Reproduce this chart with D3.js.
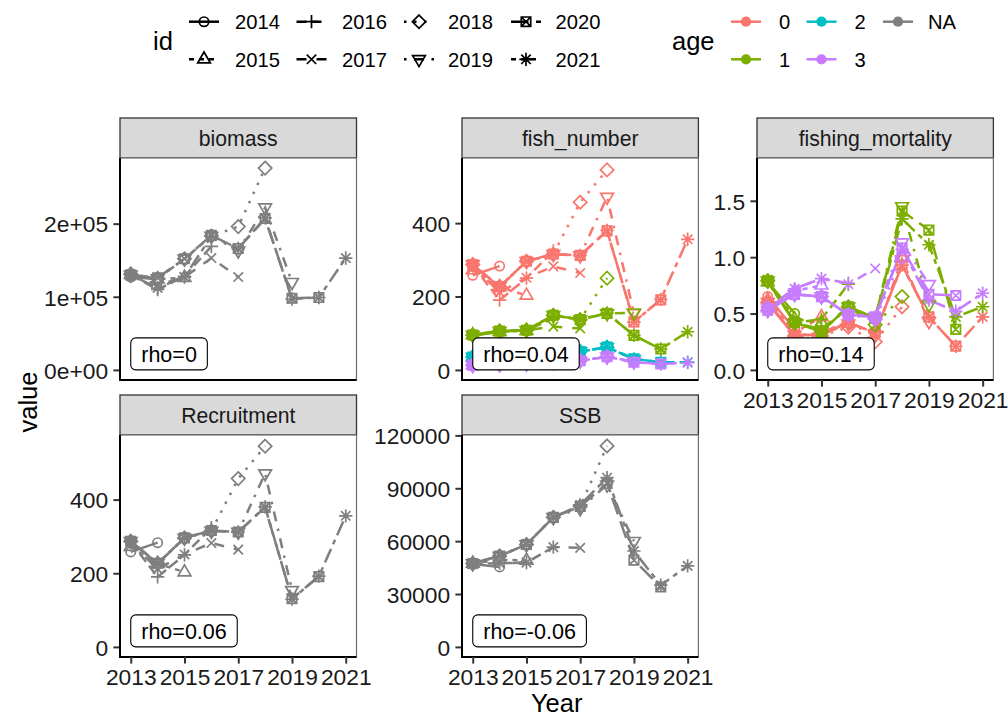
<!DOCTYPE html>
<html>
<head>
<meta charset="utf-8">
<script src="https://cdn.jsdelivr.net/npm/d3@7"></script>
<style>
  body { margin: 0; background: #fff; }
  svg { display: block; font-family: "Liberation Sans", Arial, Helvetica, sans-serif; }
</style>
</head>
<body>
<svg id="chart" width="1008" height="720"></svg>
<script>
// ---- data -------------------------------------------------------------
const years = [2013, 2014, 2015, 2016, 2017, 2018, 2019, 2020, 2021];
const peelIds = ["2014", "2015", "2016", "2017", "2018", "2019", "2020", "2021"];
const peelLinetypes = ["solid", "22", "42", "44", "13", "1343", "73", "2262"];
const peelShapes = [1, 2, 3, 4, 5, 6, 7, 8];
const ageLevels = ["0", "1", "2", "3", "NA"];
const ageColours = ["#F8766D", "#7CAE00", "#00BFC4", "#C77CFF", "#7F7F7F"];

const facetNames = ["biomass", "fish_number", "fishing_mortality", "Recruitment", "SSB"];
const rhoLabels = ["rho=0", "rho=0.04", "rho=0.14", "rho=0.06", "rho=-0.06"];

// one row per peel (id), values from 2013 up to the peel year
const biomassNA = [
  [127000, 124000],
  [130000, 124000, 126000],
  [130000, 110000, 128000, 169000],
  [130000, 116000, 127000, 153000, 127000],
  [131000, 125000, 152000, 183000, 196000, 276000],
  [130000, 125000, 152000, 183000, 163000, 222000, 120000],
  [130000, 126000, 152000, 184000, 166000, 207000, 98000, 99000],
  [130000, 112000, 127000, 183000, 166000, 208000, 97000, 99000, 153000]
];
const fishNumber0 = [
  [258, 283],
  [272, 226, 203],
  [285, 190, 250, 324],
  [282, 212, 251, 282, 264],
  [287, 227, 296, 315, 457, 545],
  [287, 227, 296, 315, 312, 471, 154],
  [287, 227, 296, 316, 312, 379, 131, 191],
  [288, 226, 296, 315, 312, 380, 130, 192, 356]
];
const fishNumber1 = [
  [93, 104],
  [95, 104, 107],
  [95, 104, 108, 140],
  [95, 104, 108, 118, 113],
  [95, 106, 108, 149, 137, 250],
  [95, 106, 108, 149, 137, 154, 156],
  [95, 106, 108, 149, 137, 154, 94, 57],
  [96, 106, 109, 148, 138, 155, 94, 57, 104]
];
const fishNumber2 = [
  [35, 40],
  [35, 40, 43],
  [35, 40, 43, 46],
  [35, 40, 43, 46, 50],
  [35, 40, 43, 46, 50, 62],
  [35, 40, 43, 46, 50, 62, 29],
  [35, 40, 43, 46, 50, 62, 30, 21],
  [35, 40, 43, 46, 50, 62, 30, 21, 21]
];
const fishNumber3 = [
  [13, 15],
  [13, 15, 17],
  [13, 15, 17, 21],
  [13, 15, 17, 21, 25],
  [13, 15, 17, 21, 25, 36],
  [13, 15, 17, 21, 25, 36, 22],
  [13, 15, 17, 21, 25, 36, 21, 16],
  [13, 15, 17, 21, 25, 36, 21, 16, 20]
];
const fMort0 = [
  [0.65, 0.36],
  [0.62, 0.33, 0.47],
  [0.60, 0.30, 0.33, 0.43],
  [0.60, 0.30, 0.32, 0.42, 0.33],
  [0.60, 0.30, 0.30, 0.38, 0.25, 0.56],
  [0.60, 0.31, 0.31, 0.41, 0.31, 0.98, 0.43],
  [0.59, 0.31, 0.31, 0.42, 0.33, 0.93, 0.47, 0.21],
  [0.59, 0.31, 0.31, 0.42, 0.33, 0.93, 0.47, 0.21, 0.47]
];
const fMort1 = [
  [0.78, 0.50],
  [0.78, 0.45, 0.42],
  [0.78, 0.42, 0.45, 0.76],
  [0.79, 0.42, 0.36, 0.56, 0.40],
  [0.79, 0.42, 0.34, 0.56, 0.40, 0.65],
  [0.79, 0.42, 0.34, 0.56, 0.46, 1.45, 0.58],
  [0.79, 0.42, 0.34, 0.56, 0.46, 1.41, 1.24, 0.36],
  [0.80, 0.42, 0.34, 0.56, 0.46, 1.34, 1.11, 0.47, 0.56]
];
const fMort3 = [
  [0.55, 0.67],
  [0.55, 0.70, 0.75],
  [0.55, 0.72, 0.81, 0.77],
  [0.55, 0.72, 0.81, 0.76, 0.90],
  [0.53, 0.67, 0.65, 0.49, 0.45, 1.00],
  [0.53, 0.67, 0.65, 0.49, 0.47, 1.13, 0.76],
  [0.53, 0.67, 0.65, 0.49, 0.47, 1.08, 0.67, 0.66],
  [0.53, 0.67, 0.65, 0.49, 0.47, 1.07, 0.62, 0.52, 0.68]
];
// recruitment is the age-0 abundance
const recruitmentNA = fishNumber0;
const ssbNA = [
  [47000, 45400],
  [47300, 49500, 49000],
  [47000, 47500, 47800, 56600],
  [47000, 47500, 47800, 56600, 56200],
  [47300, 51600, 58100, 73500, 79700, 114000],
  [47300, 51600, 58100, 73500, 78500, 92000, 60000],
  [47300, 51600, 58100, 73500, 79700, 92800, 49200, 34000],
  [47300, 51600, 58100, 73500, 80500, 96000, 54400, 35000, 46000]
];

const xTicks = [2013, 2015, 2017, 2019, 2021];
const biomassTicks = [0, 100000, 200000];
const biomassTickLabels = ["0e+00", "1e+05", "2e+05"];
const numberTicks = [0, 200, 400];
const mortalityTicks = [0, 0.5, 1.0, 1.5];
const mortalityTickLabels = ["0.0", "0.5", "1.0", "1.5"];
const ssbTicks = [0, 30000, 60000, 90000, 120000];
const yLimits = [[0, 276000], [0, 550], [0, 1.79], [0, 548], [0, 114500]];

// ---- layout -----------------------------------------------------------
const FONT_AXIS = 22.8;    // tick labels
const FONT_STRIP = 21.2;   // facet strip text
const FONT_LEGEND = 20.2;  // legend labels
const FONT_TITLE = 25.5;   // axis titles, legend titles
const RHO_FONT = 21.5;
const LINE_W = 2.5;
const SHAPE_STROKE = 1.7;
const SYM = 12.56;
const TICK_LEN = 6.6;

const columns = [[120, 356.5], [462, 698.4], [757, 993.4]];
const rowsY = [{ strip: 118, top: 158, bottom: 380 }, { strip: 395, top: 435, bottom: 657 }];

const facets = [
  { col: 0, row: 0, xAxis: false, series: [[4, biomassNA]], ticks: biomassTicks, tickLabels: biomassTickLabels },
  { col: 1, row: 0, xAxis: false, series: [[0, fishNumber0], [1, fishNumber1], [2, fishNumber2], [3, fishNumber3]], ticks: numberTicks, tickLabels: numberTicks.map(String) },
  { col: 2, row: 0, xAxis: true, series: [[0, fMort0], [1, fMort1], [3, fMort3]], ticks: mortalityTicks, tickLabels: mortalityTickLabels },
  { col: 0, row: 1, xAxis: true, series: [[4, recruitmentNA]], ticks: numberTicks, tickLabels: numberTicks.map(String) },
  { col: 1, row: 1, xAxis: true, series: [[4, ssbNA]], ticks: ssbTicks, tickLabels: ssbTicks.map(String) }
];

const svg = d3.select("#chart");

function dashArray(lt) {
  if (lt === "solid") return null;
  return lt.split("").map(h => parseInt(h, 16) * LINE_W).join(",");
}

// R plotting symbols (pch 1..8), centred on the origin
function symbolPath(pch, s) {
  const R = 0.375 * s;
  const r2 = Math.SQRT2 * R;
  switch (pch) {
    case 1: return `M${R},0A${R},${R} 0 1,1 ${-R},0A${R},${R} 0 1,1 ${R},0Z`;
    case 2: {
      const r = 1.55512030 * R, yc = 0.77756015 * R, xc = 1.34677368 * R;
      return `M0,${-r}L${xc},${yc}L${-xc},${yc}Z`;
    }
    case 6: {
      const r = 1.55512030 * R, yc = 0.77756015 * R, xc = 1.34677368 * R;
      return `M0,${r}L${xc},${-yc}L${-xc},${-yc}Z`;
    }
    case 3: return `M${-r2},0H${r2}M0,${-r2}V${r2}`;
    case 4: return `M${-R},${-R}L${R},${R}M${-R},${R}L${R},${-R}`;
    case 5: return `M0,${-r2}L${r2},0L0,${r2}L${-r2},0Z`;
    case 7: return `M${-R},${-R}H${R}V${R}H${-R}Z M${-R},${-R}L${R},${R}M${-R},${R}L${R},${-R}`;
    case 8: return `M${-R},${-R}L${R},${R}M${-R},${R}L${R},${-R}M${-r2},0H${r2}M0,${-r2}V${r2}`;
  }
  return "";
}

// ---- panels -----------------------------------------------------------
facets.forEach((f, fi) => {
  const [x0, x1] = columns[f.col];
  const rw = rowsY[f.row];
  const lim = yLimits[fi];
  const span = lim[1] - lim[0];
  const x = d3.scaleLinear().domain([2013 - 0.4, 2021 + 0.4]).range([x0, x1]);
  const y = d3.scaleLinear().domain([lim[0] - 0.05 * span, lim[1] + 0.05 * span]).range([rw.bottom, rw.top]);

  const g = svg.append("g");

  // strip
  g.append("rect")
    .attr("x", x0).attr("y", rw.strip)
    .attr("width", x1 - x0).attr("height", rw.top - rw.strip)
    .attr("fill", "#D9D9D9").attr("stroke", "#333333").attr("stroke-width", 1.3);
  g.append("text")
    .attr("x", (x0 + x1) / 2).attr("y", (rw.strip + rw.top) / 2 + 0.36 * FONT_STRIP)
    .attr("text-anchor", "middle").attr("font-size", FONT_STRIP).attr("fill", "#1A1A1A")
    .text(facetNames[fi]);

  // panel background
  g.append("rect")
    .attr("x", x0).attr("y", rw.top)
    .attr("width", x1 - x0).attr("height", rw.bottom - rw.top)
    .attr("fill", "#fff");

  const lineGen = d3.line().x(d => x(d[0])).y(d => y(d[1]));

  // lines, grouped by age then id
  const lines = g.append("g");
  f.series.forEach(([ai, rows]) => {
    rows.forEach((vals, pi) => {
      const pts = vals.map((v, i) => [years[i], v]);
      lines.append("path")
        .attr("d", lineGen(pts))
        .attr("fill", "none")
        .attr("stroke", ageColours[ai])
        .attr("stroke-width", LINE_W)
        .attr("stroke-dasharray", dashArray(peelLinetypes[pi]));
    });
  });

  // points
  const points = g.append("g");
  f.series.forEach(([ai, rows]) => {
    rows.forEach((vals, pi) => {
      vals.forEach((v, i) => {
        points.append("path")
          .attr("transform", `translate(${x(years[i])},${y(v)})`)
          .attr("d", symbolPath(peelShapes[pi], SYM))
          .attr("fill", "none")
          .attr("stroke", ageColours[ai])
          .attr("stroke-width", SHAPE_STROKE);
      });
    });
  });

  // rho label anchored at (2013, 0), left/bottom justified
  const lab = g.append("g");
  const txt = lab.append("text")
    .attr("font-size", RHO_FONT).attr("fill", "#000")
    .text(rhoLabels[fi]);
  const tw = txt.node().getComputedTextLength();
  const padX = 10.5, boxH = 32;
  const bx = x(2013), by = y(0);
  lab.insert("rect", "text")
    .attr("x", bx).attr("y", by - boxH)
    .attr("width", tw + 2 * padX).attr("height", boxH)
    .attr("rx", 5).attr("ry", 5)
    .attr("fill", "#fff").attr("stroke", "#000").attr("stroke-width", 1.1);
  txt.attr("x", bx + padX).attr("y", by - boxH / 2 + 0.36 * RHO_FONT);

  // panel border
  g.append("rect")
    .attr("x", x0).attr("y", rw.top)
    .attr("width", x1 - x0).attr("height", rw.bottom - rw.top)
    .attr("fill", "none").attr("stroke", "#6E6E6E").attr("stroke-width", 1.2);

  // y axis
  const yAxis = d3.axisLeft(y).tickValues(f.ticks)
    .tickFormat((d, i) => f.tickLabels[i]).tickSize(TICK_LEN).tickPadding(5.3);
  const ya = g.append("g").attr("transform", `translate(${x0},0)`).call(yAxis);
  ya.select(".domain").remove();
  ya.append("line").attr("x1", 0).attr("x2", 0).attr("y1", rw.top).attr("y2", rw.bottom + 0.6)
    .attr("stroke", "#000").attr("stroke-width", 2);
  ya.selectAll(".tick line").attr("stroke", "#333").attr("stroke-width", 2);
  ya.selectAll(".tick text").attr("font-size", FONT_AXIS).attr("fill", "#1A1A1A")
    .attr("font-family", null).attr("dy", null)
    .attr("y", 0.36 * FONT_AXIS);

  // x axis
  const xa = g.append("g").attr("transform", `translate(0,${rw.bottom})`);
  xa.append("line").attr("x1", x0 - 1).attr("x2", x1).attr("y1", 0).attr("y2", 0)
    .attr("stroke", "#000").attr("stroke-width", 2);
  if (f.xAxis) {
    const xAxis = d3.axisBottom(x).tickValues(xTicks).tickFormat(d3.format("d"))
      .tickSize(TICK_LEN).tickPadding(5.3);
    const xg = xa.append("g").call(xAxis);
    xg.select(".domain").remove();
    xg.selectAll(".tick line").attr("stroke", "#333").attr("stroke-width", 2);
    xg.selectAll(".tick text").attr("font-size", FONT_AXIS).attr("fill", "#1A1A1A")
      .attr("font-family", null).attr("dy", null)
      .attr("y", TICK_LEN + 5.3 + 0.72 * FONT_AXIS);
  }
});

// ---- axis titles ------------------------------------------------------
svg.append("text")
  .attr("x", (120 + 993.4) / 2).attr("y", 712)
  .attr("text-anchor", "middle").attr("font-size", FONT_TITLE).attr("fill", "#000")
  .text("Year");
svg.append("text")
  .attr("transform", `translate(${28 + 0.36 * FONT_TITLE},402) rotate(-90)`)
  .attr("text-anchor", "middle").attr("font-size", FONT_TITLE).attr("fill", "#000")
  .text("value");

// ---- legends ----------------------------------------------------------
const legendRowsY = [21.7, 59.3];
const KEY_W = 30;

// id legend: linetype + shape
const idLegend = svg.append("g");
idLegend.append("text").attr("x", 153).attr("y", 40.5 + 0.36 * FONT_TITLE)
  .attr("font-size", FONT_TITLE).attr("fill", "#000").text("id");
const idKeyLeft = [189, 296.5, 404, 511];
const idLabelLeft = [235, 342, 448, 555.5];
peelIds.forEach((id, i) => {
  const c = Math.floor(i / 2), r = i % 2;
  const ky = legendRowsY[r];
  const kx = idKeyLeft[c];
  idLegend.append("line")
    .attr("x1", kx).attr("x2", kx + KEY_W).attr("y1", ky).attr("y2", ky)
    .attr("stroke", "#000").attr("stroke-width", LINE_W)
    .attr("stroke-dasharray", dashArray(peelLinetypes[i]));
  idLegend.append("path")
    .attr("transform", `translate(${kx + KEY_W / 2},${ky})`)
    .attr("d", symbolPath(peelShapes[i], SYM))
    .attr("fill", "none").attr("stroke", "#000").attr("stroke-width", SHAPE_STROKE);
  idLegend.append("text")
    .attr("x", idLabelLeft[c]).attr("y", ky + 0.36 * FONT_LEGEND)
    .attr("font-size", FONT_LEGEND).attr("fill", "#000").text(id);
});

// age legend: colour
const ageLegend = svg.append("g");
ageLegend.append("text").attr("x", 672).attr("y", 40.5 + 0.36 * FONT_TITLE)
  .attr("font-size", FONT_TITLE).attr("fill", "#000").text("age");
const ageKeyLeft = [731, 806.5, 883];
const ageLabelLeft = [779, 854.5, 928];
ageLevels.forEach((a, i) => {
  const c = Math.floor(i / 2), r = i % 2;
  const ky = legendRowsY[r];
  const kx = ageKeyLeft[c];
  ageLegend.append("line")
    .attr("x1", kx).attr("x2", kx + KEY_W).attr("y1", ky).attr("y2", ky)
    .attr("stroke", ageColours[i]).attr("stroke-width", LINE_W);
  ageLegend.append("circle")
    .attr("cx", kx + KEY_W / 2).attr("cy", ky).attr("r", 0.375 * SYM + 0.4)
    .attr("fill", ageColours[i]);
  ageLegend.append("text")
    .attr("x", ageLabelLeft[c]).attr("y", ky + 0.36 * FONT_LEGEND)
    .attr("font-size", FONT_LEGEND).attr("fill", "#000").text(a);
});
</script>
</body>
</html>
